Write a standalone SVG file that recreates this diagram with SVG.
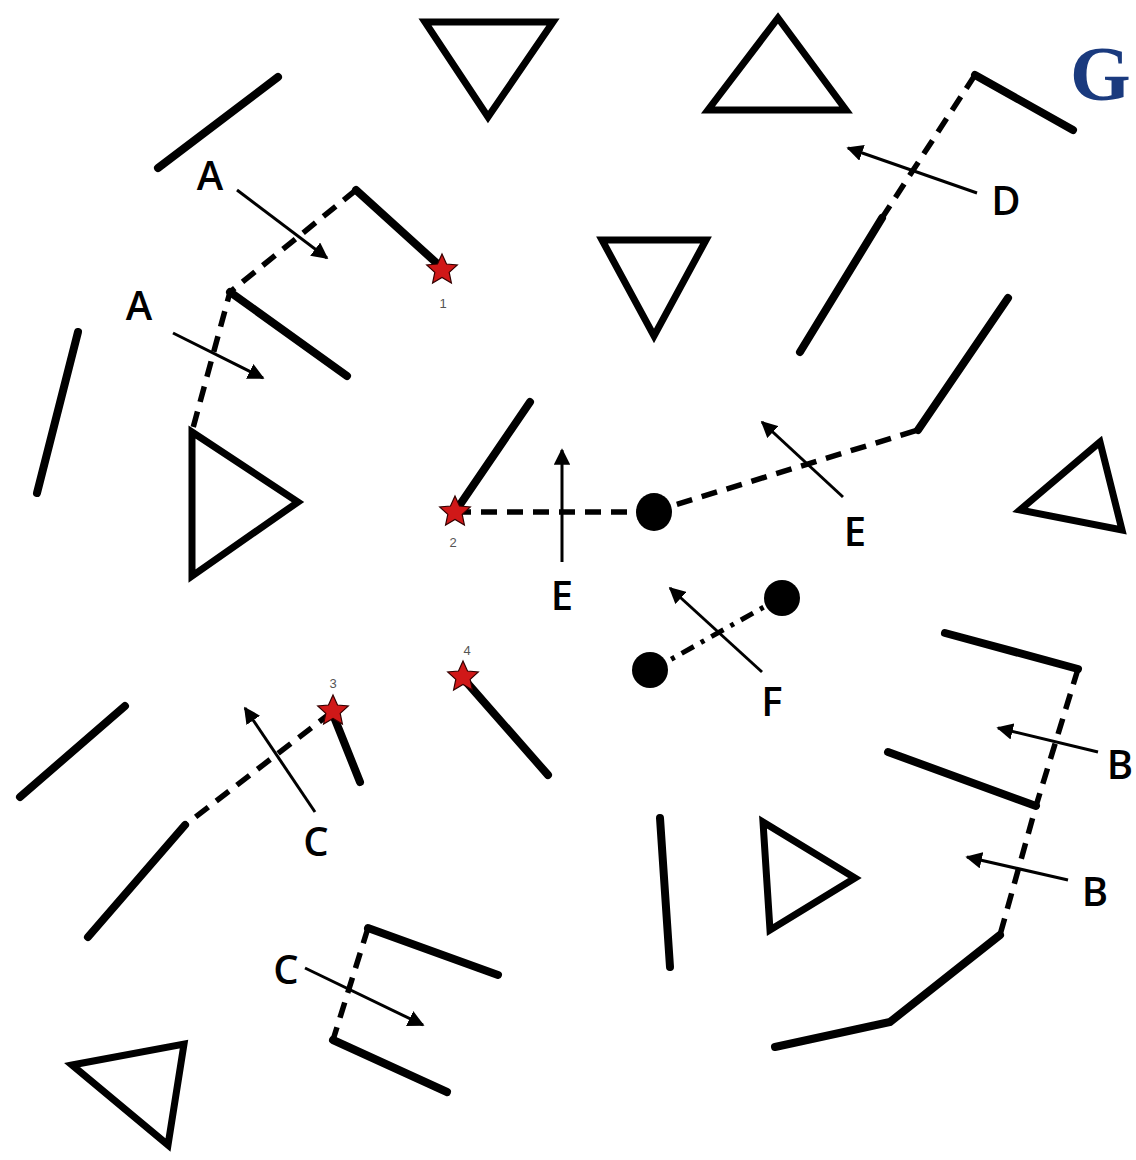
<svg xmlns="http://www.w3.org/2000/svg" width="1136" height="1160" viewBox="0 0 1136 1160">
<style>
.tri{fill:none;stroke:#000;stroke-width:7;stroke-linejoin:miter}
.wall{fill:none;stroke:#000;stroke-width:8;stroke-linecap:round;stroke-linejoin:miter}
.dash{fill:none;stroke:#000;stroke-width:5.5;stroke-dasharray:16 10}
.dd{fill:none;stroke:#000;stroke-width:5;stroke-dasharray:14 8 4 8}
.arr{fill:none;stroke:#000;stroke-width:3;marker-end:url(#ah)}
.lbl{font-family:"Open Sans","Liberation Sans",sans-serif;font-weight:600;font-size:40px;fill:#000;text-anchor:middle}
.num{font-family:"Liberation Sans",sans-serif;font-size:13px;fill:#555;text-anchor:middle}
.star{fill:#d01818;stroke:#300;stroke-width:1.2}
</style>
<defs>
<marker id="ah" viewBox="0 0 10 10" refX="9" refY="5" markerWidth="5.5" markerHeight="5.5" orient="auto" markerUnits="strokeWidth">
<path d="M0,0 L10,5 L0,10 Z" fill="#000"/>
</marker>
<path id="st" d="M0,-16 L4.5,-6 L15.3,-5 L7.2,2.4 L9.4,13 L0,7.5 L-9.4,13 L-7.2,2.4 L-15.3,-5 L-4.5,-6 Z"/>
</defs>
<rect width="1136" height="1160" fill="#fff"/>

<g id="triangles">
<polygon id="t1" class="tri" points="425,22 553,22 488,117"/>
<polygon id="t2" class="tri" points="708,110 846,110 778,18"/>
<polygon id="t3" class="tri" points="602,240 706,240 654,336"/>
<polygon id="t4" class="tri" points="192,432 298,502 192,576"/>
<polygon id="t5" class="tri" points="1100,442 1020,510 1122,530"/>
<polygon id="t6" class="tri" points="763,822 855,878 770,930"/>
<polygon id="t7" class="tri" points="72,1065 184,1044 168,1145"/>
</g>

<g id="walls">
<line class="wall" x1="158" y1="168" x2="278" y2="77"/>
<line class="wall" x1="37" y1="493" x2="78" y2="332"/>
<line class="wall" x1="20" y1="797" x2="125" y2="706"/>
<polyline class="wall" points="442,268 356,190"/>
<polyline class="wall" points="347,376 230,292"/>
<line class="wall" x1="455" y1="512" x2="530" y2="402"/>
<line class="wall" x1="918" y1="430" x2="1008" y2="298"/>
<polyline class="wall" points="1073,130 975,75"/>
<line class="wall" x1="882" y1="218" x2="800" y2="352"/>
<line class="wall" x1="332" y1="712" x2="360" y2="782"/>
<line class="wall" x1="185" y1="825" x2="88" y2="937"/>
<line class="wall" x1="462" y1="677" x2="548" y2="775"/>
<line class="wall" x1="660" y1="818" x2="670" y2="967"/>
<polyline class="wall" points="945,633 1078,669"/>
<polyline class="wall" points="888,752 1036,806"/>
<polyline class="wall" points="1000,935 890,1022 775,1047"/>
<polyline class="wall" points="498,975 368,928"/>
<polyline class="wall" points="447,1092 333,1040"/>
</g>

<g id="connectors">
<polyline class="dash" points="356,190 230,292 193,428"/>
<polyline class="dash" points="975,75 882,218"/>
<line class="dash" x1="455" y1="512" x2="652" y2="512"/>
<line class="dash" x1="652" y1="512" x2="918" y2="430"/>
<line class="dd" x1="652" y1="670" x2="780" y2="598"/>
<line class="dash" x1="332" y1="712" x2="185" y2="825"/>
<polyline class="dash" points="1078,669 1036,806 1000,935"/>
<polyline class="dash" points="368,928 333,1040"/>

<line class="arr" x1="237" y1="190" x2="327" y2="258"/>
<line class="arr" x1="173" y1="333" x2="263" y2="378"/>
<line class="arr" x1="977" y1="193" x2="848" y2="148"/>
<line class="arr" x1="562" y1="562" x2="562" y2="450"/>
<line class="arr" x1="843" y1="497" x2="762" y2="422"/>
<line class="arr" x1="762" y1="672" x2="670" y2="588"/>
<line class="arr" x1="315" y1="812" x2="245" y2="708"/>
<line class="arr" x1="1098" y1="752" x2="998" y2="728"/>
<line class="arr" x1="1068" y1="880" x2="967" y2="857"/>
<line class="arr" x1="305" y1="968" x2="423" y2="1025"/>
</g>

<g id="dots">
<ellipse cx="654" cy="512" rx="18" ry="19" fill="#000"/>
<ellipse cx="782" cy="598" rx="18" ry="18" fill="#000"/>
<ellipse cx="650" cy="670" rx="18" ry="18" fill="#000"/>
</g>

<g id="stars">
<use href="#st" class="star" x="442" y="270"/>
<text class="num" x="443" y="308">1</text>
<use href="#st" class="star" x="455" y="512"/>
<text class="num" x="453" y="547">2</text>
<use href="#st" class="star" x="333" y="711"/>
<text class="num" x="333" y="688">3</text>
<use href="#st" class="star" x="463" y="677"/>
<text class="num" x="467" y="655">4</text>
</g>

<g id="labels">
<text class="lbl" x="210" y="190">A</text>
<text class="lbl" x="139" y="320">A</text>
<text class="lbl" x="1006" y="215">D</text>
<text class="lbl" x="562" y="610">E</text>
<text class="lbl" x="855" y="546">E</text>
<text class="lbl" x="772" y="716">F</text>
<text class="lbl" x="316" y="856">C</text>
<text class="lbl" x="286" y="984">C</text>
<text class="lbl" x="1120" y="779">B</text>
<text class="lbl" x="1095" y="906">B</text>
<text x="1070" y="100" font-family="'Liberation Serif',serif" font-weight="bold" font-size="78" fill="#1a3a7e">G</text>
</g>
</svg>
